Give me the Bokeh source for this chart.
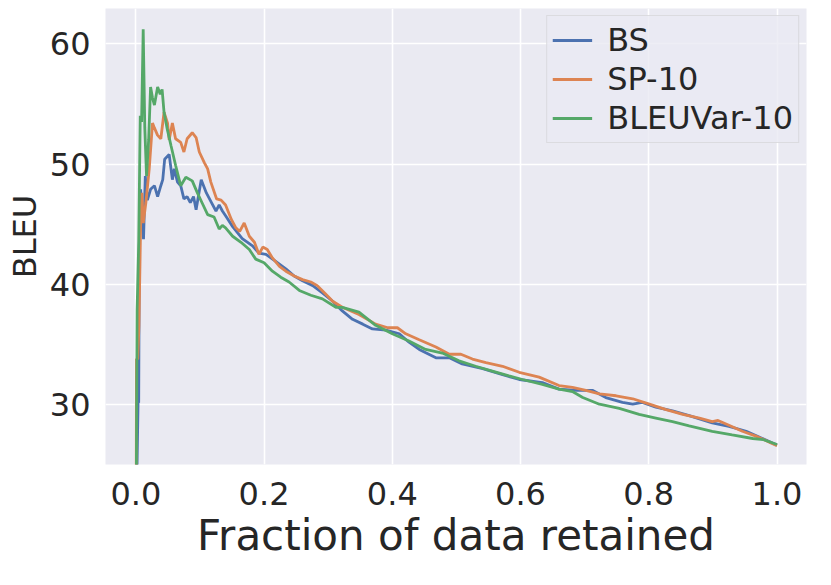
from bokeh.plotting import figure
from bokeh.models import Range1d, FixedTicker, PrintfTickFormatter, Legend, LegendItem
from bokeh.embed import file_html
from bokeh.resources import INLINE

series_names = ["BS", "SP-10", "BLEUVar-10"]

bs_x = [0.001, 0.0035, 0.0045, 0.0054, 0.0075, 0.0104, 0.012, 0.0148, 0.018, 0.023,
        0.029, 0.034, 0.039, 0.042, 0.045, 0.052, 0.057, 0.060, 0.065, 0.070,
        0.075, 0.080, 0.085, 0.090, 0.094, 0.102, 0.110, 0.118, 0.125, 0.130,
        0.135, 0.140, 0.151, 0.166, 0.182, 0.192, 0.203, 0.216, 0.234, 0.247,
        0.260, 0.276, 0.291, 0.307, 0.322, 0.338, 0.354, 0.369, 0.390, 0.411,
        0.426, 0.442, 0.468, 0.489, 0.509, 0.541, 0.572, 0.598, 0.634, 0.660,
        0.687, 0.712, 0.733, 0.759, 0.775, 0.790, 0.811, 0.837, 0.863, 0.899,
        0.925, 0.952, 0.973, 1.0]
bs_y = [22.0, 30.2, 30.2, 43.2, 47.9, 44.9, 43.75, 49.0, 47.0, 47.9,
        48.2, 47.3, 48.2, 48.7, 50.4, 50.8, 48.7, 49.6, 48.5, 48.2,
        47.1, 47.3, 46.8, 47.3, 46.2, 48.7, 47.6, 46.8, 46.1, 46.6,
        46.1, 45.7, 44.8, 43.8, 43.2, 42.6, 42.5, 42.0, 41.3, 40.7,
        40.3, 39.9, 39.3, 38.6, 37.8, 37.1, 36.7, 36.3, 36.2, 35.9,
        35.2, 34.6, 33.9, 33.9, 33.4, 33.0, 32.5, 32.1, 31.85, 31.3,
        31.2, 31.2, 30.6, 30.2, 30.05, 30.2, 29.8, 29.5, 29.1, 28.5,
        28.2, 27.8, 27.3, 26.65]

sp_x = [0.0005, 0.001, 0.003, 0.0049, 0.006, 0.0075, 0.0094, 0.0116, 0.0157, 0.0209,
        0.026, 0.029, 0.0338, 0.039, 0.044, 0.0495, 0.052, 0.057, 0.062, 0.070,
        0.075, 0.080, 0.088, 0.094, 0.099, 0.107, 0.112, 0.117, 0.126, 0.133,
        0.140, 0.149, 0.156, 0.162, 0.169, 0.177, 0.185, 0.192, 0.198, 0.205,
        0.213, 0.224, 0.234, 0.247, 0.260, 0.273, 0.283, 0.296, 0.307, 0.322,
        0.348, 0.374, 0.393, 0.408, 0.421, 0.442, 0.468, 0.489, 0.507, 0.525,
        0.546, 0.572, 0.598, 0.629, 0.660, 0.681, 0.702, 0.723, 0.749, 0.775,
        0.801, 0.827, 0.853, 0.879, 0.899, 0.908, 0.925, 0.946, 0.967, 0.988, 1.0]
sp_y = [22.0, 33.8, 33.8, 36.6, 40.2, 44.9, 47.6, 45.1, 46.8, 49.6,
        53.4, 53.0, 52.4, 52.1, 54.3, 53.4, 52.0, 53.4, 52.1, 51.8,
        51.0, 52.1, 52.6, 52.2, 51.0, 50.1, 49.6, 48.5, 47.1, 47.0,
        46.6, 45.4, 44.7, 44.4, 45.1, 44.0, 43.5, 42.5, 43.1, 42.9,
        42.2, 41.5, 41.1, 40.7, 40.4, 40.2, 39.9, 39.2, 38.6, 38.1,
        37.5, 36.7, 36.4, 36.4, 35.9, 35.4, 34.8, 34.2, 34.2, 33.8,
        33.5, 33.2, 32.7, 32.3, 31.6, 31.44, 31.2, 30.9, 30.75, 30.5,
        30.05, 29.6, 29.2, 28.9, 28.6, 28.7, 28.3, 27.8, 27.4, 26.9, 26.6]

bv_x = [0.0006, 0.002, 0.0045, 0.0069, 0.009, 0.0115, 0.014, 0.0167, 0.020, 0.023,
        0.026, 0.029, 0.034, 0.038, 0.041, 0.044, 0.049, 0.055, 0.062, 0.070,
        0.078, 0.088, 0.096, 0.104, 0.112, 0.122, 0.130, 0.135, 0.140, 0.151,
        0.164, 0.177, 0.187, 0.200, 0.213, 0.226, 0.239, 0.255, 0.273, 0.291,
        0.312, 0.322, 0.348, 0.374, 0.400, 0.426, 0.452, 0.478, 0.504, 0.530,
        0.556, 0.582, 0.603, 0.634, 0.660, 0.681, 0.697, 0.723, 0.754, 0.785,
        0.811, 0.837, 0.863, 0.899, 0.930, 0.962, 0.979, 1.0]
bv_y = [22.0, 37.9, 43.5, 54.0, 53.5, 61.2, 53.0, 49.0, 52.0, 56.4,
        55.5, 54.9, 56.4, 55.8, 56.2, 54.3, 52.9, 51.5, 49.9, 48.2,
        48.9, 48.6, 47.6, 46.7, 45.8, 45.6, 44.6, 44.9, 44.7, 44.0,
        43.5, 42.9, 42.1, 41.8, 41.1, 40.6, 40.2, 39.5, 39.1, 38.8,
        38.1, 38.1, 37.7, 36.6, 35.9, 35.3, 34.6, 34.3, 33.65, 33.2,
        32.8, 32.4, 32.1, 31.7, 31.3, 31.1, 30.6, 30.05, 29.7, 29.2,
        28.9, 28.6, 28.25, 27.8, 27.5, 27.2, 27.1, 26.7]

x_ticks = [0.0, 0.2, 0.4, 0.6, 0.8, 1.0]
y_ticks = [30, 40, 50, 60]

colors = ["#4C72B0", "#DD8452", "#55A868"]
FONT = "DejaVu Sans"
TXT = "#262626"

p = figure(frame_width=701, frame_height=456, output_backend="svg", toolbar_location=None,
           x_range=Range1d(-0.0473, 1.046), y_range=Range1d(25.04, 62.92),
           min_border_left=105, min_border_right=9, min_border_top=8, min_border_bottom=105)
p.background_fill_color = "#EAEAF2"
p.border_fill_color = "white"
p.outline_line_color = None

p.xgrid.grid_line_color = "white"
p.ygrid.grid_line_color = "white"
p.xgrid.grid_line_width = 1.6
p.ygrid.grid_line_width = 1.6
p.xaxis.ticker = FixedTicker(ticks=x_ticks)
p.yaxis.ticker = FixedTicker(ticks=y_ticks)
p.xaxis.formatter = PrintfTickFormatter(format="%.1f")

for ax in (p.xaxis, p.yaxis):
    ax.axis_line_color = None
    ax.major_tick_line_color = None
    ax.minor_tick_line_color = None
    ax.major_tick_out = 0
    ax.major_tick_in = 0
    ax.major_label_text_font = FONT
    ax.major_label_text_font_size = "32px"
    ax.major_label_text_color = TXT
    ax.axis_label_text_font = FONT
    ax.axis_label_text_font_style = "normal"
    ax.axis_label_text_color = TXT

p.xaxis.axis_label = "Fraction of data retained"
p.xaxis.axis_label_text_font_size = "42px"
p.xaxis.major_label_standoff = 17
p.xaxis.axis_label_standoff = 3
p.yaxis.axis_label = "BLEU"
p.yaxis.axis_label_text_font_size = "32px"
p.yaxis.major_label_standoff = 15
p.yaxis.axis_label_standoff = 3

r1 = p.line(bs_x, bs_y, line_color=colors[0], line_width=2.8)
r2 = p.line(sp_x, sp_y, line_color=colors[1], line_width=2.8)
r3 = p.line(bv_x, bv_y, line_color=colors[2], line_width=2.8)

legend = Legend(items=[LegendItem(label=series_names[0], renderers=[r1]),
                       LegendItem(label=series_names[1], renderers=[r2]),
                       LegendItem(label=series_names[2], renderers=[r3])],
                location="top_right")
legend.margin = 7
legend.padding = 5
legend.spacing = 1
legend.glyph_width = 40
legend.label_standoff = 15
legend.label_text_font = FONT
legend.label_text_font_size = "32px"
legend.label_text_color = TXT
legend.background_fill_color = "#EAEAF2"
legend.background_fill_alpha = 0.8
legend.border_line_color = "#CCCCCC"
legend.border_line_width = 1
p.add_layout(legend)

open("out.html", "w").write(file_html(p, INLINE))
